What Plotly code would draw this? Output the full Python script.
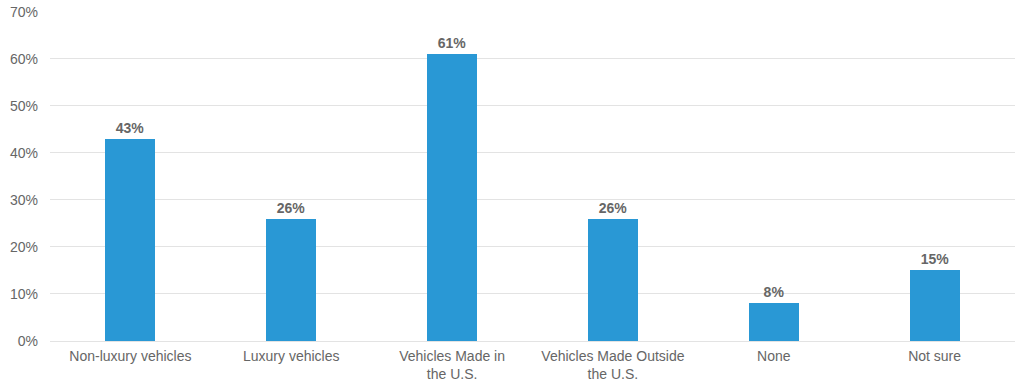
import plotly.graph_objects as go

categories = ["Non-luxury vehicles", "Luxury vehicles", "Vehicles Made in<br>the U.S.",
              "Vehicles Made Outside<br>the U.S.", "None", "Not sure"]
values = [43, 26, 61, 26, 8, 15]
tick_vals = [0, 10, 20, 30, 40, 50, 60, 70]
tick_text = [f"{v}%" for v in tick_vals]

fig = go.Figure(go.Bar(
    x=categories, y=values,
    marker=dict(color="#2998D5", line=dict(width=0)),
    width=0.31,
    text=[f"<b>{v}%</b>" for v in values],
    textposition="outside",
    textfont=dict(family="Liberation Sans, Arial", size=14, color="#666666"),
    cliponaxis=False,
))
fig.update_layout(
    width=1024, height=391,
    margin=dict(l=50, r=9, t=11, b=50, autoexpand=False),
    plot_bgcolor="white", paper_bgcolor="white",
    font=dict(family="Liberation Sans, Arial", size=14, color="#666666"),
    showlegend=False,
    bargap=0,
)
fig.update_yaxes(range=[0, 70.2], tickvals=tick_vals, ticktext=tick_text,
                 showgrid=True, gridcolor="#E3E3E3", gridwidth=1, zeroline=False,
                 showline=False, ticks="", ticklabelstandoff=11, automargin=False)
fig.update_xaxes(showline=True, linecolor="#E3E3E3", linewidth=1, ticks="",
                 tickangle=0, automargin=False, ticklabelstandoff=2)
fig.write_html("out.html", config={"displayModeBar": False},
               post_script="document.body.style.margin='0';")
